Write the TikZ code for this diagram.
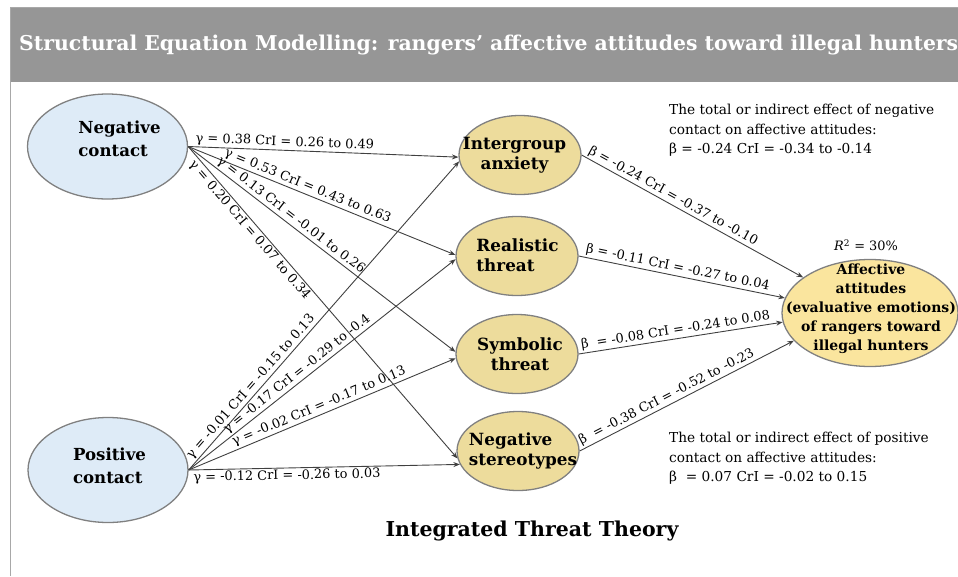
\documentclass[tikz,border=0pt]{standalone}
\usepackage{fontspec}
\setmainfont{DejaVu Serif}
\usetikzlibrary{shapes.geometric,arrows.meta}
\definecolor{bandgrey}{HTML}{969696}
\definecolor{framegrey}{HTML}{A8A8A8}
\definecolor{rimgrey}{HTML}{808080}
\definecolor{contactblue}{HTML}{DEEBF7}
\definecolor{threatkhaki}{HTML}{EDDC9C}
\definecolor{outcomeyellow}{HTML}{FAE59E}
\definecolor{pathgrey}{HTML}{404040}
\tikzset{
  construct/.style={ellipse,draw=rimgrey,line width=1.3pt,inner sep=0pt},
  contact/.style={construct,fill=contactblue,minimum width=160pt,minimum height=105pt},
  threat/.style={construct,fill=threatkhaki,minimum width=122pt,minimum height=79pt},
  outcome/.style={construct,fill=outcomeyellow,minimum width=176pt,minimum height=107pt},
  name text/.style={font=\bfseries\fontsize{16.8}{20}\selectfont,inner sep=0pt},
  effect/.style={draw=pathgrey,line width=0.9pt,-{Stealth[length=6.5pt,width=5pt]}},
  coef/.style={font=\fontsize{12.9}{15}\selectfont,sloped,inner sep=1.5pt},
  note/.style={align=left,anchor=north west,font=\fontsize{13.7}{19.5}\selectfont,inner sep=0pt}
}
\begin{document}
\begin{tikzpicture}[x=1pt,y=-1pt]
\useasboundingbox (0,0) rectangle (958,576);
\fill[bandgrey] (10,8) rectangle (958,82);
\draw[framegrey,line width=1pt] (10,576) -- (10,7) -- (958,7);
\node[anchor=west,text=white,inner sep=0pt,font=\bfseries\fontsize{20.4}{24}\selectfont] (title) at (19,45) {Structural Equation Modelling: rangers’ affective attitudes toward illegal hunters};

\node[contact] (neg) at (107.5,146.5) {};
\node[contact] (pos) at (108,470) {};
\node[threat] (anx) at (520,155) {};
\node[threat] (real) at (517,256) {};
\node[threat] (sym) at (517,354) {};
\node[threat] (ster) at (518,451) {};
\node[outcome] (aff) at (870,313) {};

\node[name text,align=left,font=\bfseries\fontsize{16.6}{23}\selectfont] (negText) at (119.5,139) {Negative\\contact};
\node[name text,align=left,font=\bfseries\fontsize{16.6}{23}\selectfont] (posText) at (109.5,466) {Positive\\contact};
\node[name text,align=center] (anxText) at (514.5,155) {Intergroup\\anxiety};
\node[name text,align=left] (realText) at (517.5,255.5) {Realistic\\threat};
\node[name text,align=center] (symText) at (520,354) {Symbolic\\threat};
\node[name text,align=left] (sterText) at (523,451) {Negative\\stereotypes};
\node[name text,align=center,font=\bfseries\fontsize{14}{19}\selectfont] (affText) at (871,309) {Affective\\attitudes\\(evaluative emotions)\\of rangers toward\\illegal hunters};

\draw[effect] (neg.east) -- (anx.182) node[coef,pos=0.02,anchor=south west] {γ = 0.38 CrI = 0.26 to 0.49};
\draw[effect] (neg.east) -- (real.179) node[coef,pos=0.12,anchor=south west] {γ = 0.53 CrI = 0.43 to 0.63};
\draw[effect] (neg.east) -- (sym.178) node[coef,pos=0.09,anchor=south west] {γ = 0.13 CrI = -0.01 to 0.26};
\draw[effect] (neg.east) -- (ster.187) node[coef,pos=0.03,anchor=north west] {γ = 0.20 CrI = 0.07 to 0.34};
\draw[effect] (pos.east) -- (anx.186) node[coef,pos=0.02,anchor=south west] {γ = -0.01 CrI = -0.15 to 0.13};
\draw[effect] (pos.east) -- (real.183) node[coef,pos=0.15,anchor=south west] {γ = -0.17 CrI = -0.29 to -0.4};
\draw[effect] (pos.east) -- (sym.184) node[coef,pos=0.17,anchor=south west] {γ = -0.02 CrI = -0.17 to 0.13};
\draw[effect] (pos.east) -- (ster.193) node[coef,pos=0.01,anchor=north west] {γ = -0.12 CrI = -0.26 to 0.03};

\draw[effect] (anx.east) -- (aff.152) node[coef,pos=0.01,anchor=south west] {β = -0.24 CrI = -0.37 to -0.10};
\draw[effect] (real.east) -- (aff.170) node[coef,pos=0.02,anchor=south west] {β = -0.11 CrI = -0.27 to 0.04};
\draw[effect] (sym.east) -- (aff.186) node[coef,pos=0.01,anchor=south west] {β \ = -0.08 CrI = -0.24 to 0.08};
\draw[effect] (ster.east) -- (aff.200) node[coef,pos=0.01,anchor=south west] {β \ = -0.38 CrI = -0.52 to -0.23};

\node[font=\fontsize{12.9}{15}\selectfont] (rsq) at (866,245) {\textit{R}\textsuperscript{2} = 30\%};
\node[note] (negNote) at (669,104) {The total or indirect effect of negative\\contact on affective attitudes:\\β = -0.24 CrI = -0.34 to -0.14};
\node[note] (posNote) at (669,432) {The total or indirect effect of positive\\contact on affective attitudes:\\β \ = 0.07 CrI = -0.02 to 0.15};
\node[font=\bfseries\fontsize{20.5}{24}\selectfont] (theory) at (532,531) {Integrated Threat Theory};
\end{tikzpicture}
\end{document}
